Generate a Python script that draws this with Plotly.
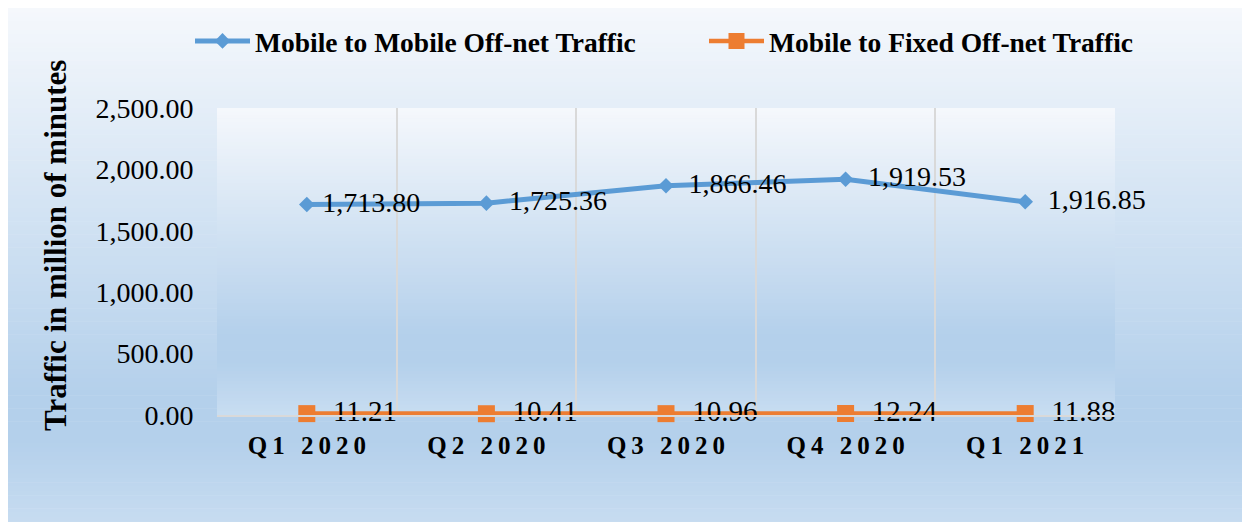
import plotly.graph_objects as go

# ---------------- data ----------------
quarters = ["Q1 2020", "Q2 2020", "Q3 2020", "Q4 2020", "Q1 2021"]
mobile_to_mobile = [1713.80, 1725.36, 1866.46, 1919.53, 1736.00]
mobile_to_mobile_labels = ["1,713.80", "1,725.36", "1,866.46", "1,919.53", "1,916.85"]
mobile_to_fixed = [11.21, 10.41, 10.96, 12.24, 11.88]
mobile_to_fixed_labels = ["11.21", "10.41", "10.96", "12.24", "11.88"]
y_tick_values = [0, 500, 1000, 1500, 2000, 2500]
y_title = "Traffic in million of minutes"

# ---------------- layout geometry (figure px) ----------------
W, H = 1250, 522
PL, PR, PT, PB = 209, 1107, 100, 407  # plot area
SERIF = "Liberation Serif"
BLUE = "#5B9BD5"
ORANGE = "#ED7D31"
NBSP = "\u00a0"

def spaced(s):
    thin = "\u2009"
    out = []
    for i, ch in enumerate(s):
        out.append(ch)
        if i < len(s) - 1:
            out.append(thin)
    return "".join(out)

quarter_ticks = [spaced(q) for q in quarters]

def fx(px):
    return (px - PL) / (PR - PL)

def fy(py):
    return (PB - py) / (PB - PT)

stops = [(0.0, (245, 248, 252)), (0.74, (180, 208, 235)), (0.83, (180, 208, 235)), (1.0, (200, 221, 241))]

def grad(t):
    for (t0, c0), (t1, c1) in zip(stops[:-1], stops[1:]):
        if t <= t1:
            f = 0 if t1 == t0 else (t - t0) / (t1 - t0)
            return "rgb(%d,%d,%d)" % tuple(round(a + (b - a) * f) for a, b in zip(c0, c1))
    return "rgb(%d,%d,%d)" % stops[-1][1]

shapes = []
def band_rect(x0, x1, y0, y1, n):
    h = (y1 - y0) / n
    for i in range(n):
        ya = y0 + i * h
        yb = ya + h + 0.6
        t = (i + 0.5) / n
        shapes.append(dict(type="rect", xref="paper", yref="paper", layer="below",
                           x0=fx(x0), x1=fx(x1), y0=fy(ya), y1=fy(min(yb, y1)),
                           fillcolor=grad(t), line=dict(width=0)))

band_rect(0, W, 0, H, 120)
band_rect(PL, PR, PT, PB, 90)

mm_text = [(NBSP if i == 0 else NBSP * 2) + t for i, t in enumerate(mobile_to_mobile_labels)]
mf_text = [NBSP * 2 + t for t in mobile_to_fixed_labels]

fig = go.Figure()
fig.add_trace(go.Scatter(
    x=quarters, y=mobile_to_mobile, name="Mobile to Mobile Off-net Traffic",
    mode="lines+markers+text", text=mm_text, textposition="middle right",
    textfont=dict(family=SERIF, size=28, color="#000000"),
    line=dict(color=BLUE, width=5), marker=dict(symbol="diamond", size=12, color=BLUE),
    cliponaxis=False, legend="legend"))
fig.add_trace(go.Scatter(
    x=quarters, y=mobile_to_fixed, name="Mobile to Fixed Off-net Traffic",
    mode="lines+markers+text", text=mf_text, textposition="middle right",
    textfont=dict(family=SERIF, size=29, color="#000000"),
    line=dict(color=ORANGE, width=4.5), marker=dict(symbol="square", size=17, color=ORANGE),
    cliponaxis=False, legend="legend2"))

legend_common = dict(orientation="h", xref="container", yref="container",
                     xanchor="left", y=1 - 33 / H, yanchor="middle",
                     font=dict(family=SERIF, size=27.5, color="#000000", weight="bold"),
                     bgcolor="rgba(0,0,0,0)", itemwidth=55)

fig.update_layout(
    width=W, height=H,
    margin=dict(l=PL, r=W - PR, t=PT, b=H - PB, pad=0, autoexpand=False),
    paper_bgcolor="white", plot_bgcolor="rgba(0,0,0,0)",
    shapes=shapes,
    font=dict(family=SERIF, color="#000000"),
    showlegend=True,
    legend=dict(legend_common, x=182 / W),
    legend2=dict(legend_common, x=696 / W),
    annotations=[dict(text=y_title, textangle=-90, showarrow=False,
                      xref="paper", yref="paper", x=fx(47), y=fy(238),
                      xanchor="center", yanchor="middle",
                      font=dict(family=SERIF, size=31, color="#000000", weight="bold"))],
    xaxis=dict(type="category", tickvals=quarters, ticktext=quarter_ticks, tickson="boundaries",
               showgrid=True, gridcolor="#d9d9d9", gridwidth=2,
               showline=True, linecolor="#d9d9d9", linewidth=2,
               ticks="outside", ticklen=21, tickcolor="rgba(0,0,0,0)", ticklabelstandoff=7,
               tickfont=dict(family=SERIF, size=25, color="#000000", weight="bold"),
               range=[-0.5, 4.5], zeroline=False, automargin=False),
    yaxis=dict(range=[0, 2500], tickvals=y_tick_values, tickformat=",.2f",
               showgrid=False, zeroline=False, showline=False,
               ticks="outside", ticklen=17, tickcolor="rgba(0,0,0,0)",
               tickfont=dict(family=SERIF, size=28, color="#000000"),
               automargin=False),
)

fig.write_html("out.html")
